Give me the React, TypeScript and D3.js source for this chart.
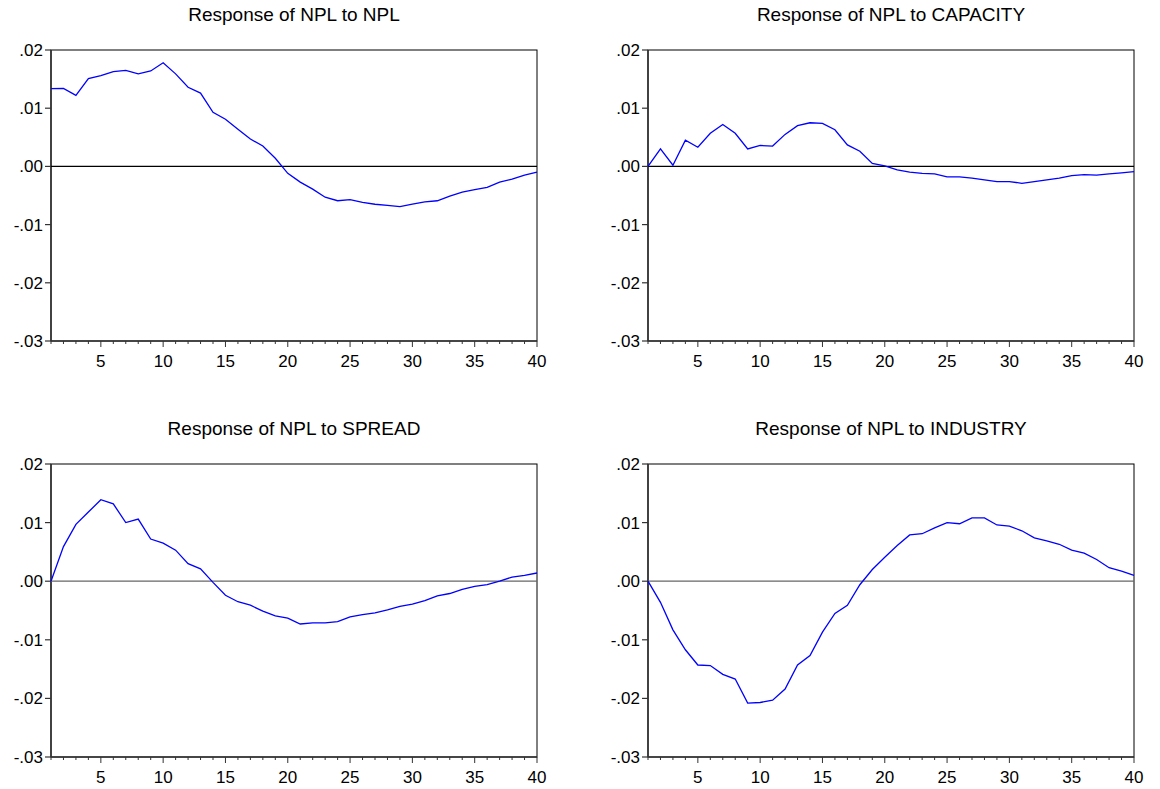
import React from 'react';
import * as d3 from 'd3';

const width = 1160;
const height = 789;

// impulse responses, periods 1..40
const nplToNpl = [
  0.01335, 0.0134, 0.0122, 0.0151, 0.0156, 0.0163, 0.0165, 0.0159, 0.0164, 0.0178,
  0.0159, 0.0136, 0.0126, 0.0093, 0.0081, 0.0064, 0.0047, 0.0035, 0.0014, -0.0012,
  -0.0027, -0.0039, -0.0053, -0.0059, -0.0057, -0.0062, -0.0065, -0.0067, -0.0069, -0.0065,
  -0.0061, -0.0059, -0.0051, -0.0044, -0.004, -0.0036, -0.0027, -0.0022, -0.0015, -0.001,
];
const nplToCapacity = [
  0.0, 0.003, 0.0002, 0.0045, 0.0033, 0.0057, 0.0072, 0.0057, 0.003, 0.0036,
  0.0035, 0.0055, 0.007, 0.0075, 0.0074, 0.0063, 0.0037, 0.0026, 0.0005, 0.0001,
  -0.0006, -0.001, -0.0012, -0.0013, -0.0018, -0.0018, -0.002, -0.0023, -0.0026, -0.0026,
  -0.0029, -0.0026, -0.0023, -0.002, -0.0016, -0.0014, -0.0015, -0.0013, -0.0011, -0.0009,
];
const nplToSpread = [
  0.0, 0.0059, 0.0097, 0.0118, 0.0139, 0.0132, 0.01, 0.0106, 0.0072, 0.0065,
  0.0053, 0.003, 0.0021, -0.0002, -0.0024, -0.0035, -0.0041, -0.0051, -0.0059, -0.0063,
  -0.0073, -0.0071, -0.0071, -0.0069, -0.0061, -0.0057, -0.0054, -0.0049, -0.0043, -0.0039,
  -0.0033, -0.0025, -0.0021, -0.0014, -0.0009, -0.0006, 0.0, 0.0007, 0.001, 0.0014,
];
const nplToIndustry = [
  0.0, -0.0036, -0.0083, -0.0117, -0.0143, -0.0144, -0.0159, -0.0167, -0.0208, -0.0207,
  -0.0203, -0.0184, -0.0143, -0.0127, -0.0087, -0.0055, -0.0041, -0.0006, 0.002, 0.0041,
  0.0061, 0.0079, 0.0081, 0.0091, 0.01, 0.0098, 0.0108, 0.0108, 0.0096, 0.0094,
  0.0086, 0.0074, 0.0069, 0.0063, 0.0053, 0.0048, 0.0037, 0.0023, 0.0017, 0.001,
];

const titles = [
  'Response of NPL to NPL',
  'Response of NPL to CAPACITY',
  'Response of NPL to SPREAD',
  'Response of NPL to INDUSTRY',
];
const series = [nplToNpl, nplToCapacity, nplToSpread, nplToIndustry];

const yTicks = [0.02, 0.01, 0, -0.01, -0.02, -0.03];
const xMajor = [5, 10, 15, 20, 25, 30, 35, 40];

// plot frames: [left, right, top, bottom]
const frames = [
  [51, 537, 50, 341],
  [648, 1134, 50, 341],
  [51, 537, 464, 757],
  [648, 1134, 464, 757],
];

const font = '"Liberation Sans", Arial, sans-serif';

const fmt = (v: number) => {
  const s = d3.format('.2f')(Math.abs(v)).replace(/^0/, '');
  return v < 0 ? '-' + s : s;
};

function Panel({ frame, title, values, zeroColor }: any) {
  const [x0, x1, y0, y1] = frame;
  const xScale = d3.scaleLinear().domain([1, 40]).range([x0, x1]);
  const yScale = d3.scaleLinear().domain([-0.03, 0.02]).range([y1, y0]);
  const line = d3
    .line<number>()
    .x((d, i) => xScale(i + 1))
    .y(d => yScale(d));
  const steps = d3.range(1, 41);

  return (
    <g>
      <text x={(x0 + x1) / 2} y={y0 - 29} textAnchor="middle" fontSize={19} fontFamily={font} fill="#000">
        {title}
      </text>
      <rect x={x0} y={y0} width={x1 - x0} height={y1 - y0} fill="none" stroke="#000" strokeWidth={1} />
      <line x1={x0} x2={x0} y1={y0} y2={y1} stroke="#333" strokeWidth={1.6} />
      <line x1={x0} x2={x1} y1={y1} y2={y1} stroke="#333" strokeWidth={1.6} />
      <line x1={x0} x2={x1} y1={yScale(0)} y2={yScale(0)} stroke={zeroColor} strokeWidth={1.2} />
      {yTicks.map(t => (
        <g key={t}>
          <line x1={x0 - 6} x2={x0} y1={yScale(t)} y2={yScale(t)} stroke="#333" strokeWidth={1.2} />
          <text x={x0 - 8} y={yScale(t) + 6} textAnchor="end" fontSize={17} fontFamily={font} fill="#000">
            {fmt(t)}
          </text>
        </g>
      ))}
      {steps.map(s => (
        <line key={s} x1={xScale(s)} x2={xScale(s)} y1={y1} y2={y1 + (s % 5 === 0 ? 6 : 3)} stroke="#333" strokeWidth={1} />
      ))}
      {xMajor.map(t => (
        <text key={t} x={xScale(t)} y={y1 + 26} textAnchor="middle" fontSize={17} fontFamily={font} fill="#000">
          {t}
        </text>
      ))}
      <path d={line(values) || ''} fill="none" stroke="#0000ff" strokeWidth={1.3} />
    </g>
  );
}

export default function App() {
  return (
    <div style={{ position: 'absolute', left: 0, top: 0 }}>
      <svg width={width} height={height} style={{ display: 'block', background: '#fff' }}>
        {series.map((values, i) => (
          <Panel
            key={i}
            frame={frames[i]}
            title={titles[i]}
            values={values}
            zeroColor={i < 2 ? '#000' : '#666'}
          />
        ))}
      </svg>
    </div>
  );
}
